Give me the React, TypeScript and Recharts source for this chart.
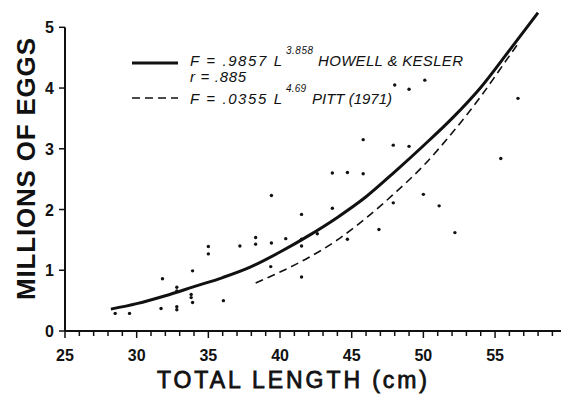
import { ComposedChart, Line, Scatter, XAxis, YAxis, ReferenceLine, Legend } from 'recharts';

const W = 561;
const H = 394;

// fitted curves
const howellLength = [28.2, 30, 32, 34, 36, 38, 40, 42, 44, 46, 48, 50, 52, 54, 56, 58];
const howellEggs = [0.36, 0.45, 0.58, 0.73, 0.88, 1.06, 1.3, 1.57, 1.87, 2.21, 2.62, 3.05, 3.5, 4.01, 4.62, 5.24];
const pittLength = [38.3, 40, 42, 44, 46, 48, 50, 52, 54, 56, 56.6];
const pittEggs = [0.79, 0.97, 1.21, 1.5, 1.86, 2.27, 2.72, 3.26, 3.86, 4.53, 4.73];

// individual fish
const fishLength = [
  28.5, 29.5, 31.7, 31.8, 32.8, 32.8, 32.8, 32.8, 33.9, 33.8, 33.8, 33.9, 35.0, 35.0, 36.05,
  37.2, 38.3, 38.3, 39.4, 39.4, 39.35, 40.4, 41.5, 41.5, 41.5, 41.5, 42.6, 43.65, 43.65, 44.7,
  44.7, 45.8, 45.8, 46.9, 47.9, 48.0, 49.0, 49.0, 50.1, 50.0, 47.9, 51.1, 52.2, 55.4, 56.6,
];
const fishEggs = [
  0.29, 0.29, 0.37, 0.86, 0.72, 0.66, 0.4, 0.35, 0.99, 0.6, 0.55, 0.47, 1.39, 1.27, 0.5,
  1.4, 1.54, 1.43, 1.45, 2.23, 1.06, 1.52, 1.92, 1.51, 1.4, 0.89, 1.6, 2.02, 2.6, 2.61,
  1.51, 2.59, 3.15, 1.67, 3.06, 4.05, 3.98, 3.04, 4.13, 2.25, 2.11, 2.06, 1.62, 2.84, 3.83,
];

const xTicks = [
  25, 26, 27, 28, 29, 30, 31, 32, 33, 34, 35, 36, 37, 38, 39, 40, 41, 42,
  43, 44, 45, 46, 47, 48, 49, 50, 51, 52, 53, 54, 55, 56, 57, 58, 59,
];
const yTicks = [0, 1, 2, 3, 4, 5];

const howell = howellLength.map((x, i) => ({ x, y: howellEggs[i] }));
const pitt = pittLength.map((x, i) => ({ x, y: pittEggs[i] }));
const fish = fishLength.map((x, i) => ({ x, y: fishEggs[i] }));

const INK = '#111';
const FONT = '"Liberation Sans", Arial, sans-serif';

const XTick = ({ x, y, payload }: any) => {
  const major = payload.value % 5 === 0;
  return (
    <g>
      <line x1={x} y1={y} x2={x} y2={y + (major ? 7 : 5)} stroke={INK} strokeWidth={1.5} />
      {major && (
        <text x={x} y={y + 30} textAnchor="middle" fontSize={16} fontWeight="bold" fontFamily={FONT} fill={INK}>
          {payload.value}
        </text>
      )}
    </g>
  );
};

const YTick = ({ x, y, payload }: any) => (
  <g>
    <line x1={x - 6} y1={y} x2={x} y2={y} stroke={INK} strokeWidth={1.5} />
    <text x={x - 11} y={y + 6} textAnchor="end" fontSize={16} fontWeight="bold" fontFamily={FONT} fill={INK}>
      {payload.value}
    </text>
  </g>
);

const XTitle = () => (
  <text x={292} y={388} textAnchor="middle" fontSize={23} fontFamily={FONT} fill={INK} stroke={INK} strokeWidth={0.8} textLength={270} lengthAdjust="spacing">
    TOTAL LENGTH (cm)
  </text>
);

const YTitle = () => (
  <text x={35} y={169} transform="rotate(-90, 35, 169)" textAnchor="middle" fontSize={26} fontFamily={FONT} fontWeight="bold" fill={INK} textLength={262} lengthAdjust="spacing">
    MILLIONS OF EGGS
  </text>
);

const FitLegend = () => {
  const t = { fontFamily: FONT, fontStyle: 'italic', fill: INK } as const;
  return (
    <svg width={W} height={120} style={{ overflow: 'visible' }}>
      <line x1={132} y1={63} x2={178} y2={63} stroke={INK} strokeWidth={3} />
      <text x={190} y={66} fontSize={15} {...t} textLength={92} lengthAdjust="spacing">F = .9857 L</text>
      <text x={286} y={54} fontSize={10} {...t} textLength={27} lengthAdjust="spacing">3.858</text>
      <text x={318} y={66} fontSize={15} {...t} textLength={145} lengthAdjust="spacing">HOWELL &amp; KESLER</text>
      <text x={190} y={82} fontSize={15} {...t} textLength={56} lengthAdjust="spacing">r = .885</text>
      <line x1={132} y1={98} x2={178} y2={98} stroke={INK} strokeWidth={1.6} strokeDasharray="8 5" />
      <text x={190} y={104} fontSize={15} {...t} textLength={92} lengthAdjust="spacing">F = .0355 L</text>
      <text x={286} y={92} fontSize={10} {...t} textLength={20} lengthAdjust="spacing">4.69</text>
      <text x={312} y={104} fontSize={15} {...t} textLength={80} lengthAdjust="spacing">PITT (1971)</text>
    </svg>
  );
};

const Dot = ({ cx, cy }: any) => <circle cx={cx} cy={cy} r={1.7} fill={INK} />;

export default function App() {
  return (
    <div style={{ position: 'absolute', left: 0, top: 0, width: W, height: H, background: '#fff' }}>
      <ComposedChart width={W} height={H} margin={{ top: 3, right: 0, bottom: 0, left: 0 }}>
        <XAxis
          type="number"
          dataKey="x"
          domain={[25, 59.6]}
          ticks={xTicks}
          interval={0}
          height={63}
          allowDataOverflow
          tickLine={false}
          tickSize={0}
          tickMargin={0}
          tick={<XTick />}
          axisLine={{ stroke: INK, strokeWidth: 2 }}
          label={<XTitle />}
        />
        <YAxis
          type="number"
          dataKey="y"
          domain={[0, 5.4]}
          ticks={yTicks}
          interval={0}
          width={65}
          allowDataOverflow
          tickLine={false}
          tickSize={0}
          tickMargin={0}
          tick={<YTick />}
          axisLine={false}
          label={<YTitle />}
        />
        <ReferenceLine
          segment={[{ x: 25, y: 0 }, { x: 25, y: 5 }]}
          stroke={INK}
          strokeWidth={2}
          ifOverflow="visible"
        />
        <Legend
          layout="horizontal"
          verticalAlign="middle"
          align="center"
          content={<FitLegend />}
          wrapperStyle={{ left: 0, top: 0, width: W, height: 120, pointerEvents: 'none' }}
        />
        <Scatter data={fish} shape={<Dot />} isAnimationActive={false} />
        <Line data={howell} dataKey="y" type="monotone" stroke={INK} strokeWidth={3} dot={false} activeDot={false} isAnimationActive={false} />
        <Line data={pitt} dataKey="y" type="monotone" stroke={INK} strokeWidth={1.6} strokeDasharray="8 5" dot={false} activeDot={false} isAnimationActive={false} />
      </ComposedChart>
    </div>
  );
}
